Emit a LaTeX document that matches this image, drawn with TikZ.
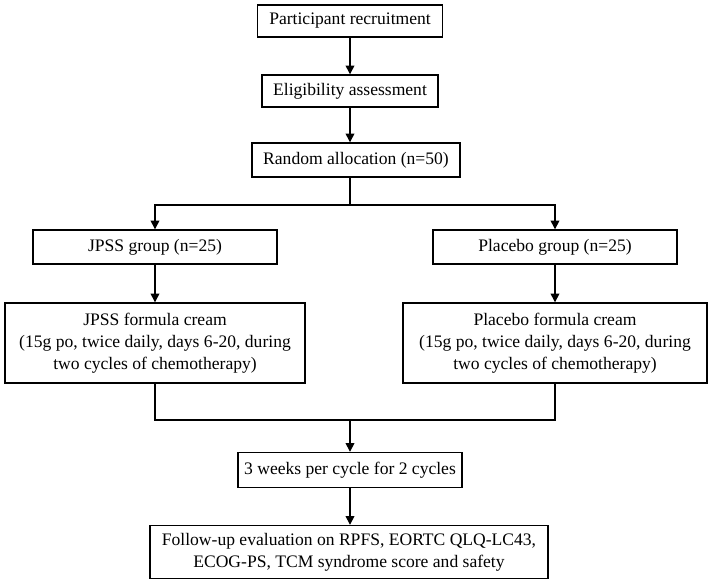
\documentclass[tikz,border=0pt]{standalone}
\usepackage{fontspec}
\setmainfont{Liberation Serif}
\usetikzlibrary{arrows.meta}
\tikzset{
  stepbox/.style={draw, thick, align=center, inner sep=1pt, font=\fontsize{10}{12.5}\selectfont},
  flow/.style={thick, -{Triangle[length=5pt,width=5pt]}}
}
\begin{document}
\begin{tikzpicture}[x=0.02cm, y=-0.02cm]
\useasboundingbox (0,0) rectangle (709,581);
       % top chain
        \node[stepbox, minimum width=185*0.02cm, minimum height=32*0.02cm] (recruit) at (350,21) {Participant recruitment};
        \node[stepbox, minimum width=176*0.02cm, minimum height=32*0.02cm] (elig) at (350,91) {Eligibility assessment};
        \node[stepbox, minimum width=208*0.02cm, minimum height=34*0.02cm] (rand) at (356,160) {Random allocation (n=50)};
        % groups
        \node[stepbox, minimum width=244*0.02cm, minimum height=34*0.02cm] (jgroup) at (155,247) {JPSS group (n=25)};
        \node[stepbox, minimum width=244*0.02cm, minimum height=34*0.02cm] (pgroup) at (555,247) {Placebo group (n=25)};
        \node[stepbox, minimum width=300*0.02cm, minimum height=80*0.02cm] (jcream) at (155,343) {JPSS formula cream\\(15g po, twice daily, days 6-20, during\\two cycles of chemotherapy)};
        \node[stepbox, minimum width=304*0.02cm, minimum height=80*0.02cm] (pcream) at (555,343) {Placebo formula cream\\(15g po, twice daily, days 6-20, during\\two cycles of chemotherapy)};
        % bottom
        \node[stepbox, minimum width=224*0.02cm, minimum height=35*0.02cm] (weeks) at (350,470) {3 weeks per cycle for 2 cycles};
        \node[stepbox, minimum width=398*0.02cm, minimum height=53*0.02cm] (follow) at (349,552) {Follow-up evaluation on RPFS, EORTC QLQ-LC43,\\ECOG-PS, TCM syndrome score and safety};
        \coordinate (split) at (350,205);
        \coordinate (merge) at (350,420);
        % arrows
        \draw[flow] (recruit) -- (elig);
        \draw[flow] (elig) -- (elig |- rand.north);
        \draw[thick] (elig |- rand.south) -- (split);
        \draw[flow] (split) -| (jgroup);
        \draw[flow] (split) -| (pgroup);
        \draw[flow] (jgroup) -- (jcream);
        \draw[flow] (pgroup) -- (pcream);
        \draw[thick] (jcream.south) |- (merge) -| (pcream.south);
        \draw[flow] (merge) -- (weeks);
        \draw[flow] (weeks) -- (weeks |- follow.north);
\end{tikzpicture}
\end{document}
